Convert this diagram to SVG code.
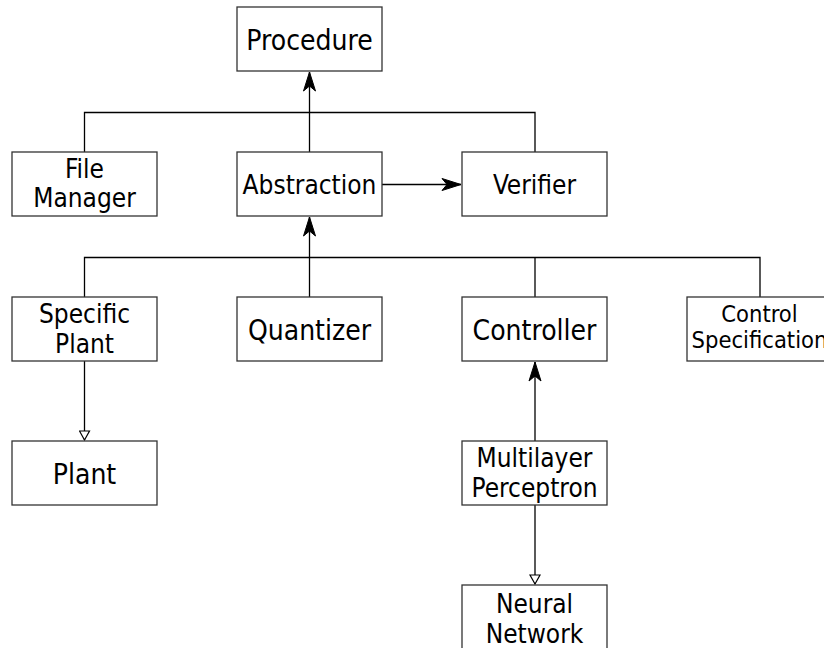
<svg xmlns="http://www.w3.org/2000/svg" width="824" height="648" viewBox="0 0 824 648">
  <style>
    .box { fill: #ffffff; stroke: #333333; stroke-width: 1.3; }
    .wire { fill: none; stroke: #000000; stroke-width: 1.3; }
    text { font-family: "DejaVu Sans Condensed", "DejaVu Sans", sans-serif; font-stretch: condensed; fill: #000000; text-anchor: middle; }
    .lg { font-size: 28px; }
    .md { font-size: 26px; }
    .sm { font-size: 23.5px; }
  </style>
  <defs>
    <marker id="classic" markerWidth="22" markerHeight="14" refX="20" refY="7" orient="auto" markerUnits="userSpaceOnUse">
      <path d="M20,7 L1,1 L6,7 L1,13 Z" fill="#000000" stroke="#000000" stroke-width="1" stroke-linejoin="miter"/>
    </marker>
    <marker id="hollow" markerWidth="12" markerHeight="12" refX="10" refY="6" orient="auto" markerUnits="userSpaceOnUse">
      <path d="M10,6 L1,1 L1,11 Z" fill="#ffffff" stroke="#000000" stroke-width="1.2"/>
    </marker>
  </defs>

  <!-- connectors -->
  <g id="connectors">
    <!-- upper bus -->
    <path class="wire" d="M84.5,152 V112.5 H535 V152"/>
    <path class="wire" d="M309.5,152 V72" marker-end="url(#classic)"/>
    <path class="wire" d="M382,184.5 H461" marker-end="url(#classic)"/>
    <!-- lower bus -->
    <path class="wire" d="M84.5,297 V257.5 H760 V297"/>
    <path class="wire" d="M309.5,297 V217" marker-end="url(#classic)"/>
    <path class="wire" d="M535,257.5 V297"/>
    <!-- vertical links -->
    <path class="wire" d="M84.5,361 V440" marker-end="url(#hollow)"/>
    <path class="wire" d="M535,441 V362" marker-end="url(#classic)"/>
    <path class="wire" d="M535,505 V584" marker-end="url(#hollow)"/>
  </g>

  <g id="procedure">
    <rect class="box" x="237" y="7" width="145" height="64"/>
    <text class="lg" x="309.5" y="49.5">Procedure</text>
  </g>
  <g id="file-manager">
    <rect class="box" x="12" y="152" width="145" height="64"/>
    <text class="md" x="84.5" y="178">File</text>
    <text class="md" x="84.5" y="207">Manager</text>
  </g>
  <g id="abstraction">
    <rect class="box" x="237" y="152" width="145" height="64"/>
    <text class="md" x="309.5" y="193.5">Abstraction</text>
  </g>
  <g id="verifier">
    <rect class="box" x="462" y="152" width="145" height="64"/>
    <text class="md" x="534.5" y="193.5">Verifier</text>
  </g>
  <g id="specific-plant">
    <rect class="box" x="12" y="297" width="145" height="64"/>
    <text class="md" x="84.5" y="323">Specific</text>
    <text class="md" x="84.5" y="353">Plant</text>
  </g>
  <g id="quantizer">
    <rect class="box" x="237" y="297" width="145" height="64"/>
    <text class="lg" x="309.5" y="339.5">Quantizer</text>
  </g>
  <g id="controller">
    <rect class="box" x="462" y="297" width="145" height="64"/>
    <text class="lg" x="534.5" y="339.5">Controller</text>
  </g>
  <g id="control-specification">
    <rect class="box" x="687" y="297" width="145" height="64"/>
    <text class="sm" x="759.5" y="322">Control</text>
    <text class="sm" x="759.5" y="348">Specification</text>
  </g>
  <g id="plant">
    <rect class="box" x="12" y="441" width="145" height="64"/>
    <text class="lg" x="84.5" y="483.5">Plant</text>
  </g>
  <g id="multilayer-perceptron">
    <rect class="box" x="462" y="441" width="145" height="64"/>
    <text class="md" x="534.5" y="467">Multilayer</text>
    <text class="md" x="534.5" y="497">Perceptron</text>
  </g>
  <g id="neural-network">
    <rect class="box" x="462" y="585" width="145" height="70"/>
    <text class="md" x="534.5" y="613">Neural</text>
    <text class="md" x="534.5" y="643">Network</text>
  </g>
</svg>
